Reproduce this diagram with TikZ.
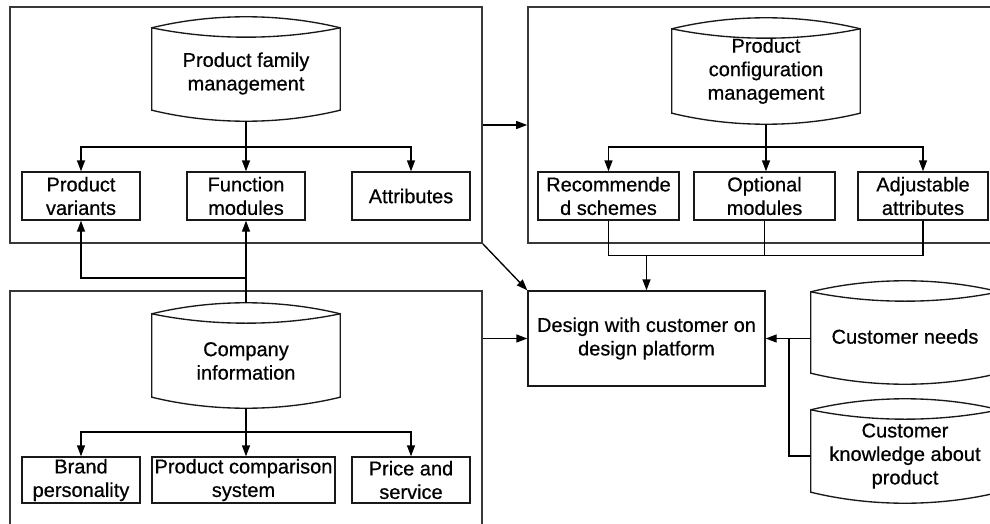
\documentclass[tikz,border=0pt]{standalone}
\usepackage{fontspec}
\setmainfont{Liberation Sans}[FakeBold=0.6]
\usetikzlibrary{arrows.meta,calc}

\begin{document}
\begin{tikzpicture}[x=1pt,y=-1pt,
  font=\fontsize{20}{23.5}\selectfont,
  frame/.style={draw=black!78, line width=1.6pt, inner sep=0pt},
  item/.style={draw=black!90, line width=1.35pt, align=center, inner sep=0pt, minimum height=48pt},
  body/.style={inner sep=0pt, minimum width=188pt},
  storeline/.style={draw=black!90, line width=1.35pt},
  lbl/.style={align=center, inner sep=0pt},
  link/.style={draw=black, line width=1.35pt},
  arrow/.style={link, -{Triangle[length=11pt,width=8pt]}},
]
\clip (0,0) rectangle (990,524);

% group frames
\node[frame, minimum width=472pt, minimum height=236pt] (fa) at (246,125) {};
\node[frame, minimum width=472pt, minimum height=236pt] (fb) at (764,125) {};
\node[frame, minimum width=472pt, minimum height=240pt] (fc) at (246,411) {};

% data stores (body between the corner points)
\node[body, minimum height=82pt] (pfm) at (246,69) {};
\node[body, minimum height=84pt] (pcm) at (766,71) {};
\node[body, minimum height=83pt] (ci)  at (246,355.5) {};
\node[body, minimum height=81pt] (cn)  at (905,332.5) {};
\node[body, minimum height=82pt] (ck)  at (905,451) {};

\foreach \n in {pfm,pcm,ci,cn,ck}{
  \draw[storeline] (\n.north west) .. controls +(60,-14.7) and +(-60,-14.7) .. (\n.north east)
     -- (\n.south east) .. controls +(-60,14.7) and +(60,14.7) .. (\n.south west) -- cycle;
  \draw[storeline] (\n.north west) .. controls +(60,12.5) and +(-60,12.5) .. (\n.north east);
  \coordinate (\n-top) at ($(\n.north)+(0,-11)$);
  \coordinate (\n-bot) at ($(\n.south)+(0,11)$);
}

\node[lbl] (pfm-t) at (246,73.5) {Product family\\management};
\node[lbl] (pcm-t) at (766,71) {Product\\configuration\\management};
\node[lbl] (ci-t)  at (246,361) {Company\\information};
\node[lbl] (cn-t)  at (905,336.5) {Customer needs};
\node[lbl] (ck-t)  at (905,456) {Customer\\knowledge about\\product};

% item boxes
\node[item, minimum width=118pt] (pv) at (81,196) {Product\\variants};
\node[item, minimum width=118pt] (fm) at (246,196) {Function\\modules};
\node[item, minimum width=118pt] (at) at (411,196) {Attributes};

\node[item, minimum width=141pt] (rs) at (608.5,196) {Recommende\\d schemes};
\node[item, minimum width=141pt] (om) at (764.5,196) {Optional\\modules};
\node[item, minimum width=130pt] (aa) at (923,196) {Adjustable\\attributes};

\node[item, minimum width=118pt, minimum height=46pt] (bp) at (81,480) {Brand\\personality};
\node[item, minimum width=183pt, minimum height=46pt] (pc) at (243.5,480) {Product comparison\\system};
\node[item, minimum width=118pt, minimum height=46pt] (ps) at (411,480) {Price and\\service};

\node[item, minimum width=237pt, minimum height=95pt] (dp) at (646.5,338.5) {Design with customer on\\design platform};

% branch points
\coordinate (ja) at (246,147);
\coordinate (jb) at (766,147);
\coordinate (jc) at (246,432);
\coordinate (jd) at (246,278);
\coordinate (je) at ($(dp.north)+(0,-35)$);
\coordinate (jf) at (789,338.5);
\coordinate (ck-in) at ($(ck.west)+(0,5)$);

% product family management
\draw[link] (pfm-bot) -- (ja);
\draw[arrow] (ja) -| (pv.north);
\draw[arrow] (ja) -- (fm.north);
\draw[arrow] (ja) -| (at.north);

% product configuration management
\draw[link] (pcm-bot) -- (jb);
\draw[arrow] (jb) -| (rs.north);
\draw[arrow] (jb) -- (jb |- om.north);
\draw[arrow] (jb) -| (aa.north);

% company information
\draw[link] (ci-bot) -- (jc);
\draw[arrow] (jc) -| (bp.north);
\draw[arrow] (jc) -- (jc |- pc.north);
\draw[arrow] (jc) -| (ps.north);
\draw[arrow] (ci-top) -- (fm.south);
\draw[arrow] (jd) -| (pv.south);

% configuration outputs to the design platform
\draw[link] (rs.south) -- (rs.south |- je) -- (aa.south |- je) -- (aa.south);
\draw[link] (om.south) -- (om.south |- je);
\draw[arrow] (je) -- (dp.north);

% frame links
\draw[arrow] (fa.east) -- (fb.west);
\draw[arrow] (fa.south east) -- (dp.north west);
\draw[arrow] (fc.east |- dp.west) -- (dp.west);

% customer inputs
\draw[arrow] (cn.west |- dp.east) -- (dp.east);
\draw[link] (jf) |- (ck-in);
\end{tikzpicture}
\end{document}
